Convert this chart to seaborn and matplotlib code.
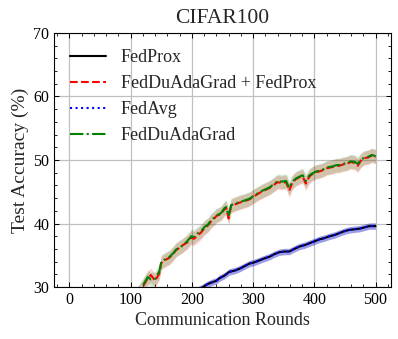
import matplotlib
matplotlib.use("Agg")
import matplotlib.pyplot as plt
import seaborn as sns
import numpy as np
import pandas as pd
from matplotlib.ticker import MultipleLocator

# ---------------- data ----------------
rounds_ada = [100, 110, 120, 128, 133, 140, 147, 150, 157, 163, 170, 174, 180, 185,
              192, 199, 203, 207, 215, 221, 226, 231, 236, 240, 245, 248, 253, 256,
              260, 264, 270, 278, 285, 294, 300, 305, 310, 318, 327, 334, 340, 347,
              354, 359, 364, 370, 376, 381, 386, 392, 397, 403, 408, 414, 420, 425,
              430, 436, 441, 447, 453, 460, 466, 471, 476, 482, 488, 494, 500]
fedduadagrad = [27.5, 28.8, 30.3, 31.6, 31.2, 31.3, 32.5, 34.0, 34.4, 34.7, 35.4, 35.9,
                36.3, 36.5, 37.2, 38.0, 37.9, 38.3, 38.8, 39.5, 39.8, 40.5, 40.9, 41.3,
                41.5, 41.7, 42.4, 42.6, 41.2, 42.9, 43.1, 43.4, 43.6, 43.9, 44.3, 44.6,
                44.9, 45.3, 45.7, 46.2, 46.7, 46.6, 46.7, 45.6, 46.6, 47.1, 47.4, 47.6,
                46.7, 47.6, 47.9, 48.2, 48.3, 48.5, 48.8, 48.9, 49.0, 49.2, 49.2, 49.4,
                49.5, 49.8, 49.7, 49.4, 50.0, 50.4, 50.5, 50.8, 50.6]
fedduadagrad_fedprox = [27.4, 28.7, 30.1, 31.4, 31.9, 31.0, 32.2, 33.8, 34.3, 34.6, 35.3,
                        35.8, 36.2, 36.6, 37.0, 37.8, 37.6, 37.9, 38.6, 39.3, 39.7, 40.3,
                        40.7, 41.2, 41.4, 41.6, 42.2, 42.5, 40.8, 42.7, 43.0, 43.3, 43.5,
                        43.8, 44.2, 44.5, 44.8, 45.2, 45.6, 46.1, 46.5, 46.4, 46.5, 45.2,
                        46.4, 47.0, 47.3, 47.4, 46.3, 47.4, 47.8, 48.1, 48.2, 48.4, 48.7,
                        48.8, 48.9, 49.1, 49.1, 49.3, 49.4, 49.7, 49.5, 49.1, 49.9, 50.3,
                        50.4, 50.7, 50.5]
std_ada = 1.1

rounds_base = [200, 210, 218, 226, 234, 240, 245, 253, 261, 270, 278, 286, 294, 302,
               310, 318, 327, 335, 343, 351, 359, 367, 376, 384, 392, 400, 408, 416,
               425, 433, 441, 449, 457, 465, 474, 482, 490, 500]
fedprox = [29.0, 29.6, 30.0, 30.5, 30.8, 31.0, 31.4, 31.8, 32.4, 32.6, 32.9, 33.3, 33.7,
           33.9, 34.2, 34.5, 34.8, 35.2, 35.5, 35.6, 35.6, 36.0, 36.4, 36.6, 36.9, 37.2,
           37.5, 37.7, 38.0, 38.2, 38.5, 38.8, 39.0, 39.1, 39.2, 39.4, 39.6, 39.6]
fedavg = [29.0, 29.6, 30.0, 30.5, 30.8, 31.0, 31.4, 31.8, 32.4, 32.6, 32.9, 33.3, 33.7,
          33.9, 34.2, 34.5, 34.8, 35.2, 35.5, 35.6, 35.6, 36.0, 36.4, 36.6, 36.9, 37.2,
          37.5, 37.7, 38.0, 38.2, 38.5, 38.8, 39.0, 39.1, 39.2, 39.4, 39.6, 39.6]
std_base = 0.5

title = "CIFAR100"
xlabel = "Communication Rounds"
ylabel = "Test Accuracy (%)"

# ---------------- style ----------------
sns.set_style("ticks")
plt.rcParams.update({
    "font.family": ["Liberation Serif", "DejaVu Serif"],
    "mathtext.fontset": "stix",
    "xtick.direction": "in",
    "ytick.direction": "in",
    "xtick.top": True,
    "ytick.right": True,
    "xtick.major.size": 3.5,
    "ytick.major.size": 3.5,
    "xtick.minor.size": 2,
    "ytick.minor.size": 2,
    "xtick.major.width": 0.7,
    "ytick.major.width": 0.7,
    "xtick.minor.width": 0.6,
    "ytick.minor.width": 0.6,
    "axes.linewidth": 0.8,
    "axes.edgecolor": "black",
    "xtick.color": "black",
    "ytick.color": "black",
})

fig = plt.figure(figsize=(3.98, 3.39), dpi=100)
ax = fig.add_axes([0.136, 0.153, 0.846, 0.750])

series = [
    ("FedProx", rounds_base, fedprox, std_base, "black", "-", 0.12),
    ("FedDuAdaGrad + FedProx", rounds_ada, fedduadagrad_fedprox, std_ada, "red", "--", 0.18),
    ("FedAvg", rounds_base, fedavg, std_base, "blue", ":", 0.3),
    ("FedDuAdaGrad", rounds_ada, fedduadagrad, std_ada, "green", "-.", 0.18),
]

for name, r, v, s, c, ls, a in series:
    r = np.asarray(r); v = np.asarray(v)
    ax.fill_between(r, v - s, v + s, color=c, alpha=a, linewidth=0)
for name, r, v, s, c, ls, a in series:
    df = pd.DataFrame({"round": r, "acc": v})
    sns.lineplot(data=df, x="round", y="acc", ax=ax, color=c, linestyle=ls,
                 linewidth=1.5, label=name)

ax.set_xlim(-25, 525)
ax.set_ylim(30, 70)
ax.xaxis.set_major_locator(MultipleLocator(100))
ax.xaxis.set_minor_locator(MultipleLocator(20))
ax.yaxis.set_major_locator(MultipleLocator(10))
ax.yaxis.set_minor_locator(MultipleLocator(2))
ax.tick_params(which="both", top=True, right=True, direction="in", labelsize=11.5)
ax.grid(True, which="major", color="#c0c0c0", linewidth=0.9)
ax.set_axisbelow(True)

ax.set_title(title, fontsize=15.5, pad=7)
ax.set_xlabel(xlabel, fontsize=13, labelpad=3)
ax.set_ylabel(ylabel, fontsize=14, labelpad=3)

leg = ax.legend(loc="upper left", frameon=False, fontsize=13)

fig.savefig("out.png", dpi=100)
